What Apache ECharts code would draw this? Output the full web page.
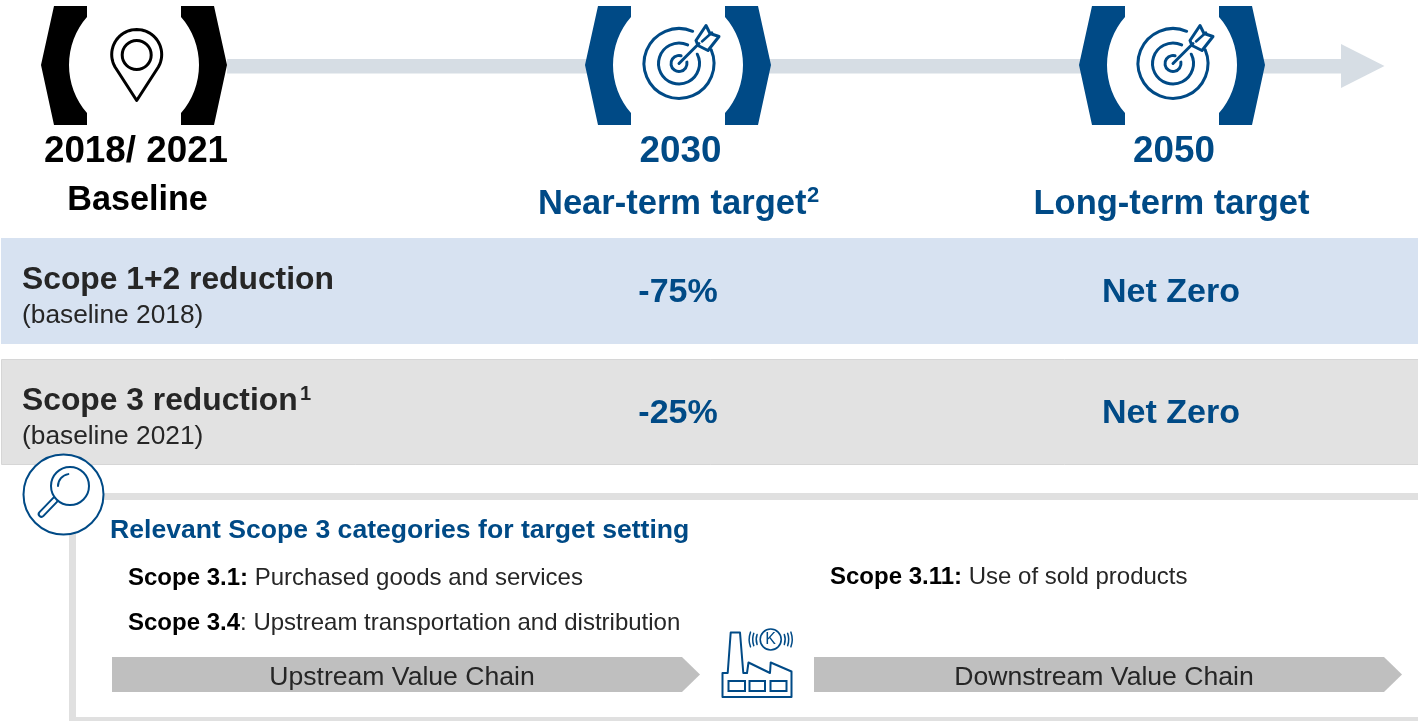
<!DOCTYPE html>
<html>
<head>
<meta charset="utf-8">
<title>Targets</title>
<style>
html,body{margin:0;padding:0;background:#fff;}
#main{width:1418px;height:721px;}
</style>
<script src="https://cdn.jsdelivr.net/npm/echarts@6/dist/echarts.min.js"></script>
</head>
<body>
<div id="main"></div>
<script>
var years = ['2018/ 2021', '2030', '2050'];
var yearLabels = ['Baseline', 'Near-term target', 'Long-term target'];
var scopeNames = ['Scope 1+2 reduction', 'Scope 3 reduction'];
var scopeBaselines = ['(baseline 2018)', '(baseline 2021)'];
var nearTermValues = ['-75%', '-25%'];
var longTermValues = ['Net Zero', 'Net Zero'];
var boxTitle = 'Relevant Scope 3 categories for target setting';
var categoryCodes = ['Scope 3.1:', 'Scope 3.4', 'Scope 3.11:'];
var categoryNames = [' Purchased goods and services', ': Upstream transportation and distribution', ' Use of sold products'];
var chainLabels = ['Upstream Value Chain', 'Downstream Value Chain'];

var BLUE = '#004a86';
var DARK = '#262626';
var FONT = 'Liberation Sans';
var els = [];

function txt(x, y, text, size, color, bold, align) {
    els.push({
        type: 'text', z: 10,
        style: {
            x: x, y: y + 2, text: text, fill: color,
            fontFamily: FONT, fontSize: size, fontWeight: bold ? 'bold' : 'normal',
            align: align || 'left', verticalAlign: 'middle'
        }
    });
}
function rect(x, y, w, h, color) {
    els.push({type: 'rect', shape: {x: x, y: y, width: w, height: h}, style: {fill: color}});
}
function poly(points, color) {
    els.push({type: 'polygon', shape: {points: points}, style: {fill: color}});
}
function outline(points, color, width, closed) {
    els.push({
        type: closed ? 'polygon' : 'polyline', z: 5, shape: {points: points},
        style: {fill: closed ? '#fff' : null, stroke: color, lineWidth: width, lineJoin: 'round', lineCap: 'round'}
    });
}
function ring(cx, cy, r, color, width, a0, a1) {
    els.push({
        type: 'arc', z: 6,
        shape: {cx: cx, cy: cy, r: r, startAngle: (a0 || 0) * Math.PI / 180, endAngle: (a1 === undefined ? 360 : a1) * Math.PI / 180, clockwise: true},
        style: {fill: null, stroke: color, lineWidth: width, lineCap: 'round'}
    });
}
function line(x1, y1, x2, y2, color, width) {
    els.push({
        type: 'line', z: 6, shape: {x1: x1, y1: y1, x2: x2, y2: y2},
        style: {stroke: color, lineWidth: width, lineCap: 'round'}
    });
}
function arcPts(cx, cy, r, a0, a1, n) {
    var pts = [];
    for (var i = 0; i <= n; i++) {
        var a = (a0 + (a1 - a0) * i / n) * Math.PI / 180;
        pts.push([cx + r * Math.cos(a), cy + r * Math.sin(a)]);
    }
    return pts;
}

// 括号
function bracket(cx, color) {
    rect(cx - 72, 50, 144, 30, '#fff');
    [-1, 1].forEach(function (s) {
        var pts = [[cx + s * 47, 6], [cx + s * 80, 6], [cx + s * 93, 65], [cx + s * 80, 125], [cx + s * 47, 125], [cx + s * 47, 113]];
        var ang = Math.atan2(48, 55) * 180 / Math.PI;
        for (var i = 0; i <= 16; i++) {
            var a = (ang - 2 * ang * i / 16) * Math.PI / 180;
            pts.push([cx + s * (-8 + 73 * Math.cos(a)), 65 + 73 * Math.sin(a)]);
        }
        pts.push([cx + s * 47, 17]);
        poly(pts, color);
    });
}

function target(cx) {
    var x = cx + 1, y = 63.5;
    ring(x, y, 35, BLUE, 3, -23, 293);
    ring(x, y, 20.5, BLUE, 3, -27, 295);
    ring(x, y, 8, BLUE, 3, -10, 285);
    line(x, y, x + 20, y - 20, BLUE, 3);
    outline([[x + 17, y - 23], [x + 27, y - 38], [x + 31, y - 30], [x + 40, y - 27], [x + 29, y - 13], [x + 19, y - 18]], BLUE, 3, true);
    line(x + 23, y - 22, x + 33, y - 31, BLUE, 2.5);
}

// 时间轴
rect(227, 59, 1114, 14.5, '#d6dde4');
poly([[1341, 44], [1384.5, 66], [1341, 88]], '#d6dde4');

bracket(134, '#000');
bracket(678, BLUE);
bracket(1172, BLUE);

// 定位图标
var pin = arcPts(136.7, 54.5, 25, 150, 390, 40);
pin.push([136.7, 100.5]);
outline(pin, '#000', 3, true);
ring(136.7, 55, 14.5, '#000', 3);

target(678);
target(1172);

// 年份
txt(136, 150, years[0], 36.8, '#000', true, 'center');
txt(137.5, 199, yearLabels[0], 34.2, '#000', true, 'center');
txt(680.5, 150, years[1], 36.8, BLUE, true, 'center');
txt(538, 202, yearLabels[1], 34.5, BLUE, true);
txt(807, 194, '2', 22, BLUE, true);
txt(1174, 150, years[2], 36.8, BLUE, true, 'center');
txt(1171.5, 202, yearLabels[2], 34.5, BLUE, true, 'center');

// 色带
rect(1, 238, 1417, 106, '#d7e2f1');
els.push({type: 'rect', shape: {x: 1.5, y: 359.5, width: 1420, height: 105}, style: {fill: '#e2e2e2', stroke: '#d6d6d6', lineWidth: 1}});

txt(22, 278, scopeNames[0], 31.8, DARK, true);
txt(22, 314, scopeBaselines[0], 26.3, DARK);
txt(678, 291, nearTermValues[0], 34, BLUE, true, 'center');
txt(1171, 291, longTermValues[0], 34, BLUE, true, 'center');

txt(22, 399, scopeNames[1], 31.8, DARK, true);
txt(300, 392, '1', 20, DARK, true);
txt(22, 435, scopeBaselines[1], 26.3, DARK);
txt(678, 412, nearTermValues[1], 34, BLUE, true, 'center');
txt(1171, 412, longTermValues[1], 34, BLUE, true, 'center');

// 下方框
rect(69, 493, 1349, 7, '#e0e0e0');
rect(69, 493, 7, 228, '#e0e0e0');
rect(69, 717, 1349, 4, '#e0e0e0');

// 放大镜
els.push({type: 'circle', z: 4, shape: {cx: 63.5, cy: 494.5, r: 40}, style: {fill: '#fff', stroke: BLUE, lineWidth: 2}});
line(55, 500, 41.5, 514, BLUE, 7.5);
line(55, 500, 41.5, 514, '#fff', 3.5);
els.push({type: 'circle', z: 6, shape: {cx: 70, cy: 486, r: 19}, style: {fill: '#fff', stroke: BLUE, lineWidth: 2}});
ring(70, 486, 12, BLUE, 2, 180, 262);

txt(110, 529, boxTitle, 26.6, BLUE, true);

function category(x, y, i) {
    els.push({
        type: 'text', z: 10,
        style: {
            x: x, y: y + 2, text: '{b|' + categoryCodes[i] + '}{n|' + categoryNames[i] + '}',
            verticalAlign: 'middle',
            rich: {
                b: {fontFamily: FONT, fontSize: 24, fontWeight: 'bold', fill: '#000'},
                n: {fontFamily: FONT, fontSize: 24, fill: DARK}
            }
        }
    });
}
category(128, 576, 0);
category(128, 621, 1);
category(830, 575, 2);

// 价值链箭头
poly([[112, 657], [682, 657], [700, 674.5], [682, 692], [112, 692]], '#bfbfbf');
poly([[814, 657], [1384, 657], [1402, 674.5], [1384, 692], [814, 692]], '#bfbfbf');
txt(402, 676, chainLabels[0], 26.6, DARK, false, 'center');
txt(1104, 676, chainLabels[1], 26.6, DARK, false, 'center');

// 工厂图标
outline([[722.5, 673], [722.5, 697], [791.5, 697], [791.5, 671.5], [770.7, 662.5], [770, 673], [748.5, 662.5], [747, 673], [743.3, 673], [740, 632.5], [730.7, 632.5], [727.7, 673]], BLUE, 2, true);
els.push({type: 'rect', z: 6, shape: {x: 728.5, y: 681, width: 16.5, height: 10}, style: {fill: null, stroke: BLUE, lineWidth: 2}});
els.push({type: 'rect', z: 6, shape: {x: 749.5, y: 681, width: 15.5, height: 10}, style: {fill: null, stroke: BLUE, lineWidth: 2}});
els.push({type: 'rect', z: 6, shape: {x: 770.5, y: 681, width: 16, height: 10}, style: {fill: null, stroke: BLUE, lineWidth: 2}});
ring(770.7, 639.5, 10.5, BLUE, 1.6);
txt(770.7, 638, 'K', 16, BLUE, false, 'center');
ring(770.7, 639.5, 14.5, BLUE, 1.5, 160, 200);
ring(770.7, 639.5, 18, BLUE, 1.5, 160, 200);
ring(770.7, 639.5, 21.5, BLUE, 1.5, 160, 200);
ring(770.7, 639.5, 14.5, BLUE, 1.5, -20, 20);
ring(770.7, 639.5, 18, BLUE, 1.5, -20, 20);
ring(770.7, 639.5, 21.5, BLUE, 1.5, -20, 20);

var myChart = echarts.init(document.getElementById('main'));
var option = {
    backgroundColor: '#fff',
    animation: false,
    graphic: {elements: els}
};
myChart.setOption(option);
</script>
</body>
</html>
